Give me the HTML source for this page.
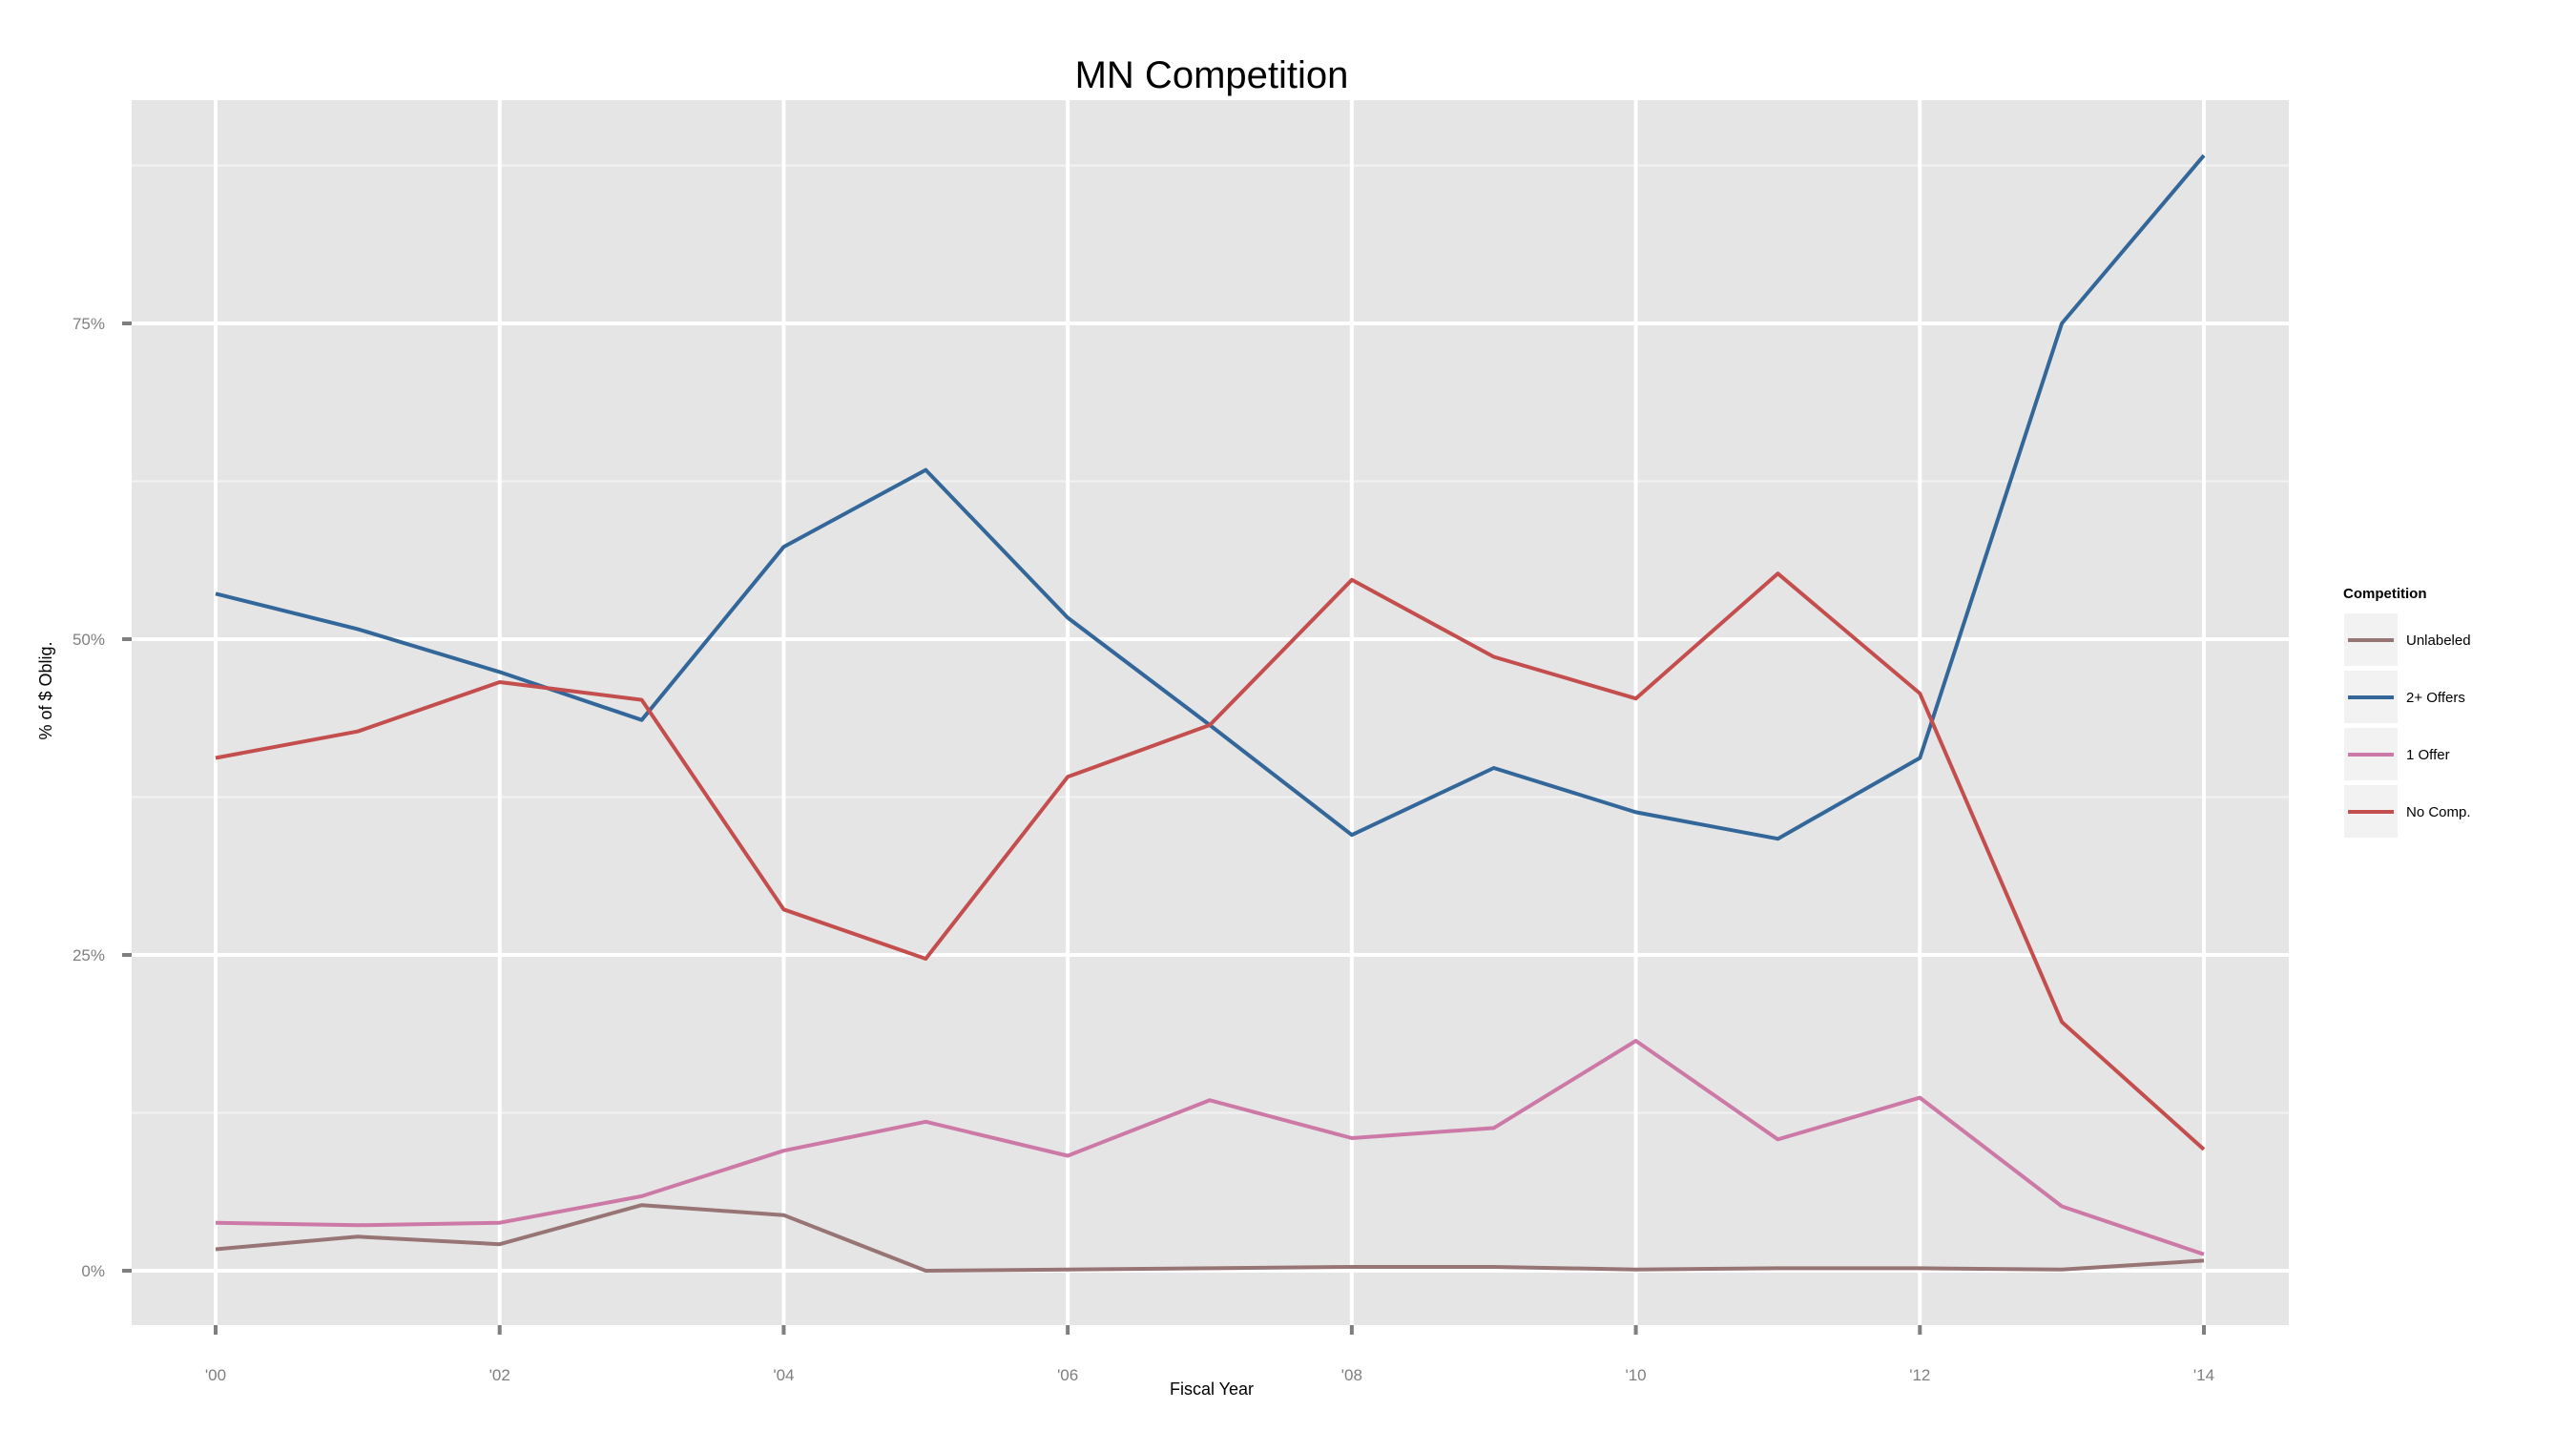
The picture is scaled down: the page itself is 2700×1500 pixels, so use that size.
<!DOCTYPE html>
<html><head><meta charset="utf-8"><style>
html,body{margin:0;padding:0;background:#fff;}
svg{display:block;font-family:"Liberation Sans",Arial,sans-serif;}
</style></head><body>
<svg id="chart" width="2700" height="1500" viewBox="0 0 2700 1500">
<rect x="138" y="105" width="2261" height="1284" fill="#e5e5e5"/>
<g id="grid"></g>
<g id="series"></g>
<g id="axes"></g>
<text x="1270" y="92" font-size="40" text-anchor="middle" fill="#000">MN Competition</text>
<text x="1270" y="1462" font-size="18" text-anchor="middle" fill="#000">Fiscal Year</text>
<text x="0" y="0" font-size="18" text-anchor="middle" fill="#000" transform="translate(54,724) rotate(-90)">% of $ Oblig.</text>
<g id="legend">
<text x="2456" y="627" font-size="15" font-weight="bold" fill="#000">Competition</text>
</g>
</svg>
<script>
const years = [2000,2001,2002,2003,2004,2005,2006,2007,2008,2009,2010,2011,2012,2013,2014];
const unlabeled = [1.7,2.7,2.1,5.2,4.4,0,0.1,0.2,0.3,0.3,0.1,0.2,0.2,0.1,0.8];
const twoPlus = [53.6,50.8,47.4,43.6,57.3,63.4,51.7,43.2,34.5,39.8,36.3,34.2,40.6,75,88.3];
const oneOffer = [3.8,3.6,3.8,5.9,9.5,11.8,9.1,13.5,10.5,11.3,18.2,10.4,13.7,5.1,1.3];
const noComp = [40.6,42.7,46.6,45.2,28.6,24.7,39.1,43.2,54.7,48.6,45.3,55.2,45.7,19.7,9.6];
const seriesNames = ["Unlabeled","2+ Offers","1 Offer","No Comp."];
const yTicks = [0,25,50,75];
const yMinor = [12.5,37.5,62.5,87.5];
const xTicks = [2000,2002,2004,2006,2008,2010,2012,2014];
const xTickLabels = ["'00","'02","'04","'06","'08","'10","'12","'14"];

const NS="http://www.w3.org/2000/svg";
const X0=138,X1=2399,Y0=105,Y1=1389;
function xs(v){return 226+(v-2000)*(2310-226)/14;}
function ys(v){return 1332-v*(1332-339)/75;}
function mk(tag,attrs,parent){const e=document.createElementNS(NS,tag);for(const k in attrs)e.setAttribute(k,attrs[k]);parent.appendChild(e);return e;}
const grid=document.getElementById('grid'),ser=document.getElementById('series'),axes=document.getElementById('axes'),leg=document.getElementById('legend');
yMinor.forEach(v=>{const l=mk('line',{x1:X0,x2:X1,y1:ys(v),y2:ys(v),stroke:'#f2f2f2','stroke-width':2},grid);

});
yTicks.forEach(v=>{const l=mk('line',{x1:X0,x2:X1,y1:ys(v),y2:ys(v),stroke:'#fff','stroke-width':4},grid);


const t=mk('line',{x1:128,x2:138,y1:ys(v),y2:ys(v),stroke:'#7f7f7f','stroke-width':4},axes);


const tx=mk('text',{x:110,y:ys(v)+6,'font-size':17,'text-anchor':'end',fill:'#7f7f7f'},axes);tx.textContent=v+'%';

});
xTicks.forEach((v,i)=>{const l=mk('line',{x1:xs(v),x2:xs(v),y1:Y0,y2:Y1,stroke:'#fff','stroke-width':4},grid);


const t=mk('line',{x1:xs(v),x2:xs(v),y1:Y1,y2:Y1+10,stroke:'#7f7f7f','stroke-width':4},axes);


const tx=mk('text',{x:xs(v),y:1447,'font-size':17,'text-anchor':'middle',fill:'#7f7f7f'},axes);tx.textContent=xTickLabels[i];

});
const data=[unlabeled,twoPlus,oneOffer,noComp];
const colors=['#987575','#336699','#cc79a7','#c44e4e'];
const order=[1,3,2,0];
order.forEach(i=>{const d=data[i].map((v,j)=>(j?'L':'M')+xs(years[j]).toFixed(1)+','+ys(v).toFixed(1)).join('');
const p=mk('path',{d:d,fill:'none',stroke:colors[i],'stroke-width':4,'stroke-linejoin':'round'},ser);

});
seriesNames.forEach((n,i)=>{const y=643+i*60;
const g=mk('g',{},leg);


mk('rect',{x:2457,y:y,width:56,height:55,fill:'#f2f2f2'},g);
mk('line',{x1:2461,x2:2509,y1:y+28,y2:y+28,stroke:colors[i],'stroke-width':4},g);
const t=mk('text',{x:2522,y:y+33,'font-size':15,fill:'#000'},g);t.textContent=n;});
</script>
</body></html>
